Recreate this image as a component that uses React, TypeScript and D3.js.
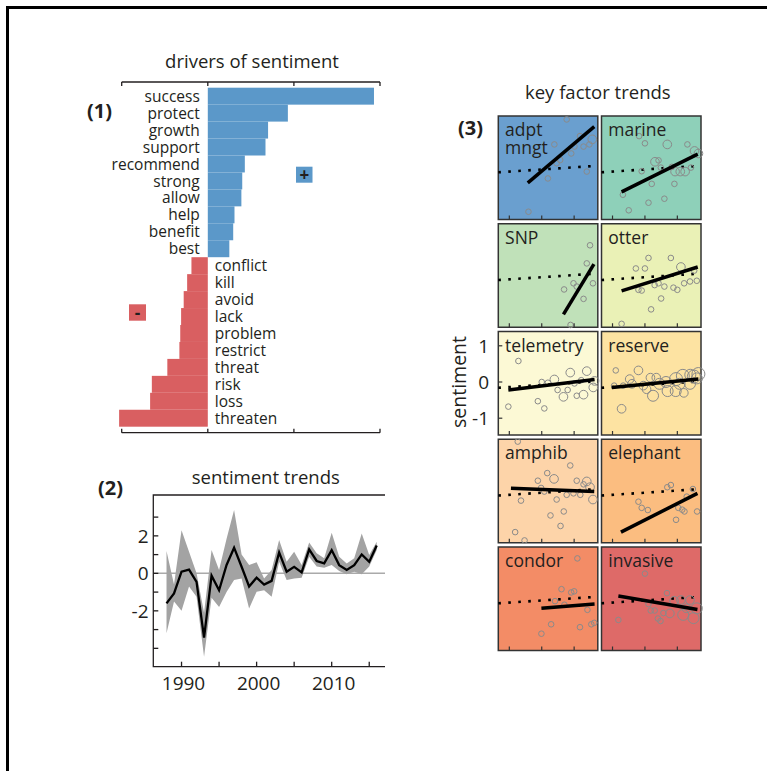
import React from 'react';
import * as d3 from 'd3';

// ---------- Panel 1: drivers of sentiment ----------
const posWords = ['success', 'protect', 'growth', 'support', 'recommend', 'strong', 'allow', 'help', 'benefit', 'best'];
const posValues = [1.93, 0.93, 0.7, 0.67, 0.43, 0.4, 0.39, 0.31, 0.295, 0.25];
const negWords = ['conflict', 'kill', 'avoid', 'lack', 'problem', 'restrict', 'threat', 'risk', 'loss', 'threaten'];
const negValues = [-0.19, -0.24, -0.28, -0.31, -0.32, -0.33, -0.47, -0.65, -0.67, -1.03];
const barTicks = [-1, 0, 1, 2];

// ---------- Panel 2: sentiment trends ----------
const years = [1988, 1989, 1990, 1991, 1992, 1993, 1994, 1995, 1996, 1997, 1998, 1999, 2000, 2001, 2002, 2003, 2004, 2005, 2006, 2007, 2008, 2009, 2010, 2011, 2012, 2013, 2014, 2015, 2016];
const sentMean = [-1.6, -1.07, 0.09, 0.2, -0.45, -3.43, -0.12, -0.9, 0.45, 1.37, 0.35, -0.7, -0.23, -0.6, -0.4, 1.12, 0.09, 0.35, 0.05, 1.28, 0.66, 0.53, 1.24, 0.44, 0.18, 0.44, 1.01, 0.62, 1.48];
const sentUpper = [1.19, -0.6, 2.3, 1.15, 0.0, -2.1, 1.25, 0.18, 1.85, 3.38, 1.0, 0.45, 0.59, -0.27, 0.18, 1.78, 0.62, 1.15, 0.45, 1.65, 1.07, 0.8, 2.17, 0.89, 0.53, 0.8, 2.13, 0.98, 1.69];
const sentLower = [-3.2, -1.5, -2.0, -0.7, -1.25, -4.45, -1.3, -1.8, -1.0, -0.35, -0.27, -1.87, -0.98, -0.9, -1.25, 0.62, -0.36, -0.27, -0.23, 0.89, 0.36, 0.3, 0.44, 0.12, -0.05, 0.09, -0.05, 0.36, 1.24];
const trendYTicks = [-4, -3, -2, -1, 0, 1, 2, 3];
const trendYLabels = [-2, 0, 2];
const trendXTicks = [1990, 1995, 2000, 2005, 2010, 2015];
const trendXLabels = [1990, 2000, 2010];

// ---------- Panel 3: key factor trends ----------
const factorNames = ['adpt mngt', 'marine', 'SNP', 'otter', 'telemetry', 'reserve', 'amphib', 'elephant', 'condor', 'invasive'];
const factorColors = ['#6a9fcf', '#8ed0b9', '#c0e1b9', '#eaf1b6', '#fcf9d5', '#fde3a2', '#fdd4a9', '#fbbd80', '#f38c66', '#de6a68'];
const factorFits = [
  [[1995.7, -0.45], [2016.2, 1.1]],
  [[1992.8, -0.7], [2016.3, 0.34]],
  [[2006.7, -1.11], [2016.1, 0.28]],
  [[1992.8, -0.46], [2016.3, 0.2]],
  [[1989.7, -0.22], [2016.3, 0.07]],
  [[1989.8, -0.15], [2016.5, 0.08]],
  [[1990.5, 0.04], [2016.2, -0.05]],
  [[1992.6, -1.17], [2016.2, -0.1]],
  [[1999.9, -0.3], [2016.3, -0.18]],
  [[1991.8, 0.04], [2016.2, -0.33]],
];
const adptPoints = [[2007.7, 1.3, 1], [2003.9, 0.61, 1], [2011.8, 0.84, 1], [2012.9, 0.55, 1], [2014.7, 0.61, 1], [2015.6, 0.75, 2], [2010.1, 0.55, 1], [2009.1, 0.36, 1], [2005.7, 0.18, 1], [2004.6, 0.09, 1], [2001.9, -0.33, 1], [2013.9, -0.14, 1], [1995.9, -1.25, 1]];
const marinePoints = [[1998.2, 0.84, 1], [2000.0, 0.64, 1], [2006.9, 0.61, 2], [2013.1, 0.61, 1], [2015.3, 0.43, 2], [2016.5, 0.36, 2], [2003.1, 0.13, 2], [2004.2, 0.17, 1], [1999.0, -0.13, 1], [2004.9, -0.03, 1], [2008.3, -0.01, 1], [2009.3, -0.14, 2], [2010.9, -0.14, 2], [2012.4, -0.14, 2], [2014.2, -0.03, 1], [2002.1, -0.48, 1], [2009.1, -0.48, 1], [1993.2, -0.78, 1], [2001.1, -1.0, 1], [2006.0, -0.89, 1], [1995.0, -1.21, 1]];
const snpPoints = [[2014.9, 0.8, 1], [2013.9, 0.3, 1], [2015.8, -0.25, 1], [2009.8, -0.25, 1], [2010.8, -0.34, 1], [2006.9, -0.42, 1], [2012.9, -0.68, 1], [2008.9, -1.4, 1]];
const otterPoints = [[2001.1, 0.45, 1], [2008.0, 0.45, 1], [1997.2, 0.16, 1], [2000.0, 0.16, 1], [2011.1, 0.2, 2], [2015.2, 0.1, 1], [2013.9, -0.2, 1], [2016.0, -0.18, 1], [2012.1, -0.25, 1], [2004.2, -0.25, 1], [2003.0, -0.3, 1], [2006.0, -0.34, 1], [2008.8, -0.37, 1], [2010.0, -0.43, 1], [1999.0, -0.45, 1], [1998.0, -0.43, 1], [2005.0, -0.67, 1], [2001.9, -0.97, 1], [1992.8, -1.37, 1]];
const telemetryPoints = [[1992.8, 0.58, 1], [1989.7, -0.68, 1], [2000.0, 0.0, 1], [2001.9, -0.02, 1], [2003.9, 0.07, 2], [2008.8, 0.26, 2], [2013.9, 0.3, 2], [2012.2, 0.05, 1], [2010.1, -0.04, 1], [2004.9, -0.22, 1], [2006.7, -0.41, 2], [2008.0, -0.22, 1], [2010.8, -0.38, 1], [2012.9, -0.35, 2], [2015.9, -0.15, 2], [1998.8, -0.53, 1], [2000.8, -0.73, 1], [2016.3, 0.03, 2]];
const reservePoints = [[1991.0, 0.32, 1], [1998.0, 0.32, 2], [1992.8, -0.74, 2], [1995.3, 0.08, 2], [1993.3, -0.1, 1], [1999.5, -0.1, 2], [2002.5, -0.38, 3], [2000.5, -0.2, 2], [2006.5, 0.0, 3], [2009.6, 0.08, 4], [2011.7, 0.17, 4], [2013.9, -0.05, 3], [2016.0, 0.1, 3], [2016.5, 0.22, 4], [2015.1, 0.15, 4], [2012.0, -0.3, 2], [2009.5, -0.25, 3], [2007.0, -0.25, 3], [1990.5, -0.1, 1], [2004.5, -0.05, 3], [2003.5, 0.12, 2], [1996.0, -0.05, 2], [2001.7, 0.12, 2], [2014.0, 0.2, 3], [2010.7, -0.05, 3]];
const amphibPoints = [[1992.6, 1.33, 1], [2008.8, 0.67, 1], [2001.7, 0.46, 1], [2003.8, 0.3, 2], [1998.8, 0.25, 1], [2010.8, 0.25, 1], [2013.9, 0.23, 2], [2012.9, 0.15, 1], [2014.9, 0.07, 2], [1999.8, 0.05, 1], [2000.8, -0.05, 1], [2007.7, -0.14, 1], [2009.8, -0.1, 1], [2011.9, -0.14, 1], [2015.8, -0.27, 2], [2004.6, -0.27, 1], [1993.6, -0.3, 1], [2006.8, -0.6, 1], [2002.7, -0.71, 1], [2005.8, -1.0, 1], [1991.8, -1.17, 1], [1994.7, -1.4, 1]];
const elephantPoints = [[2006.9, 0.07, 1], [2008.0, 0.13, 1], [2014.8, 0.02, 1], [2012.9, -0.19, 1], [1998.0, -0.33, 1], [1999.0, -0.5, 1], [2000.9, -0.56, 1], [2010.3, -0.5, 1], [2012.2, -0.6, 1], [2016.1, -0.6, 1], [2009.6, -0.83, 1], [2011.5, -0.55, 1]];
const condorPoints = [[2011.0, 1.08, 1], [2006.1, 0.23, 1], [2009.1, 0.14, 1], [2010.0, 0.17, 1], [2004.1, -0.1, 1], [2007.0, -0.2, 1], [2014.1, -0.34, 1], [2002.9, -0.74, 1], [2011.8, -0.82, 1], [1999.9, -1.0, 1], [2015.3, -0.74, 1], [2016.2, -0.7, 1]];
const invasivePoints = [[2000.0, 0.66, 1], [2006.8, 0.12, 1], [2009.0, -0.09, 2], [2011.1, -0.07, 2], [2013.9, -0.07, 2], [2016.0, -0.3, 3], [2012.8, -0.3, 2], [2011.8, -0.48, 3], [2015.0, -0.57, 3], [2001.1, -0.18, 1], [2001.8, -0.36, 1], [2003.0, -0.36, 1], [2005.7, -0.43, 1], [2007.7, -0.44, 2], [2004.0, -0.58, 1], [2004.8, -0.65, 1], [1991.8, -0.62, 1]];
const factorPoints = [adptPoints, marinePoints, snpPoints, otterPoints, telemetryPoints, reservePoints, amphibPoints, elephantPoints, condorPoints, invasivePoints];
const overallTrend = [[1986.6, -0.16], [2017.3, 0.02]];
const panelXTicks = [1990, 2000, 2010];
const panelYTicks = [-1, 0, 1];

const FONT = "'Open Sans', sans-serif";
const INK = '#231f20';
const BLUE = '#5b98c9';
const RED = '#d95f61';

export default function App() {
  // Panel 1 scales
  const xBar = d3.scaleLinear().domain([-1, 2]).range([121.7, 380]);
  const allWords = [...posWords, ...negWords];
  const allValues = [...posValues, ...negValues];
  const yBar = d3.scaleBand().domain(allWords).range([87.7, 426.7]);
  const bw = yBar.bandwidth();

  // Panel 2 scales
  const xT = d3.scaleLinear().domain([1986.24, 2017.1]).range([153.3, 385]);
  const yT = d3.scaleLinear().domain([-4.98, 4.18]).range([666.7, 495]);
  const area = d3.area<number>().x((_, i) => xT(years[i])).y0((_, i) => yT(sentLower[i])).y1((_, i) => yT(sentUpper[i]));
  const line = d3.line<number>().x((_, i) => xT(years[i])).y((d) => yT(d));

  // Panel 3 scales
  const PW = 99.5, PH = 103.5;
  const colX = [498.3, 601.5];
  const rowY = (r: number) => 116 + r * 107.75;
  const xP = d3.scaleLinear().domain([1986.6, 2017.3]).range([0, PW]);
  const yP = d3.scaleLinear().domain([1.395, -1.464]).range([0, PH]);
  const rP = d3.scaleSqrt().domain([1, 4]).range([2.8, 6.5]);
  const fitLine = d3.line<number[]>().x((d) => xP(d[0])).y((d) => yP(d[1]));

  return (
    <svg width={767} height={771} style={{ position: 'absolute', left: 0, top: 0, display: 'block' }} fontFamily={FONT}>
      <rect x={0} y={0} width={767} height={771} fill="#fff" />
      <path d="M7.5,771 V7.5 H767" fill="none" stroke="#000" strokeWidth={3} />

      {/* Panel 1 */}
      <text x={252} y={68} textAnchor="middle" fontSize={18.5} fill={INK}>drivers of sentiment</text>
      <text x={87} y={118} fontSize={20} fontWeight="bold" fill={INK}>(1)</text>
      {allWords.map((w, i) => {
        const v = allValues[i];
        return (
          <rect key={w} x={Math.min(xBar(0), xBar(v))} y={yBar(w)} width={Math.abs(xBar(v) - xBar(0))} height={bw} fill={v > 0 ? BLUE : RED} />
        );
      })}
      {allWords.map((w, i) => {
        const v = allValues[i];
        return (
          <text key={'l' + w} x={v > 0 ? xBar(0) - 8 : xBar(0) + 7} y={yBar(w)! + bw / 2} dy="0.36em" textAnchor={v > 0 ? 'end' : 'start'} fontSize={15.5} fill={INK}>{w}</text>
        );
      })}
      <line x1={xBar(-1)} x2={xBar(2)} y1={82} y2={82} stroke={INK} strokeWidth={1.3} />
      <line x1={xBar(-1)} x2={xBar(2)} y1={432.7} y2={432.7} stroke={INK} strokeWidth={1.3} />
      {barTicks.map((t) => (
        <g key={'bt' + t}>
          <line x1={xBar(t)} x2={xBar(t)} y1={82} y2={86} stroke={INK} strokeWidth={1.3} />
          <line x1={xBar(t)} x2={xBar(t)} y1={432.7} y2={428.7} stroke={INK} strokeWidth={1.3} />
        </g>
      ))}
      <rect x={296} y={166.7} width={16.5} height={16} fill={BLUE} />
      <text x={304.3} y={174.7} dy="0.36em" textAnchor="middle" fontSize={17} fontWeight="bold" fill={INK}>+</text>
      <rect x={129} y={304.3} width={17} height={16.4} fill={RED} />
      <text x={137.5} y={312.5} dy="0.36em" textAnchor="middle" fontSize={17} fontWeight="bold" fill={INK}>-</text>

      {/* Panel 2 */}
      <text x={265.8} y={484.3} textAnchor="middle" fontSize={18.5} fill={INK}>sentiment trends</text>
      <text x={98} y={495} fontSize={20} fontWeight="bold" fill={INK}>(2)</text>
      <line x1={xT.range()[0]} x2={xT.range()[1]} y1={yT(0)} y2={yT(0)} stroke="#aaaaaa" strokeWidth={1.5} />
      <path d={area(sentMean) || ''} fill="#a3a3a3" />
      <path d={line(sentMean) || ''} fill="none" stroke="#000" strokeWidth={2.3} strokeLinejoin="miter" />
      <path d={`M${xT.range()[1]},${yT.range()[1]} H${xT.range()[0]} V${yT.range()[0]} H${xT.range()[1]}`} fill="none" stroke={INK} strokeWidth={1.3} />
      {trendYTicks.map((t) => (
        <line key={'yt' + t} x1={xT.range()[0]} x2={xT.range()[0] + 5} y1={yT(t)} y2={yT(t)} stroke={INK} strokeWidth={1.3} />
      ))}
      {trendYLabels.map((t) => (
        <text key={'yl' + t} x={148.5} y={yT(t)} dy="0.36em" textAnchor="end" fontSize={19} fill={INK}>{t}</text>
      ))}
      {trendXTicks.map((t) => (
        <line key={'xt' + t} x1={xT(t)} x2={xT(t)} y1={yT.range()[0]} y2={yT.range()[0] - 5} stroke={INK} strokeWidth={1.3} />
      ))}
      {trendXLabels.map((t) => (
        <text key={'xl' + t} x={xT(t) + 2} y={690} textAnchor="middle" fontSize={19} fill={INK}>{t}</text>
      ))}

      {/* Panel 3 */}
      <text x={597.8} y={99} textAnchor="middle" fontSize={18.5} fill={INK}>key factor trends</text>
      <text x={458} y={134.5} fontSize={20} fontWeight="bold" fill={INK}>(3)</text>
      <text transform={`translate(466,382) rotate(-90)`} textAnchor="middle" fontSize={19.5} fill={INK}>sentiment</text>
      {factorNames.map((name, i) => {
        const c = i % 2, r = Math.floor(i / 2);
        const x0 = colX[c], y0 = rowY(r);
        const parts = name.split(' ');
        return (
          <g key={name} transform={`translate(${x0},${y0})`}>
            <rect x={0} y={0} width={PW} height={PH} fill={factorColors[i]} stroke="#333" strokeWidth={1.5} />
            <path d={fitLine(overallTrend) || ''} fill="none" stroke="#000" strokeWidth={2.6} strokeDasharray="2.6 7.4" />
            {factorPoints[i].map((p, j) => (
              <circle key={j} cx={xP(p[0])} cy={yP(p[1])} r={rP(p[2])} fill="none" stroke="#8a8a8a" strokeWidth={1} />
            ))}
            <path d={fitLine(factorFits[i]) || ''} fill="none" stroke="#000" strokeWidth={3.5} />
            {panelXTicks.map((t) => (
              <line key={'pt' + t} x1={xP(t)} x2={xP(t)} y1={PH} y2={PH - 4} stroke="#333" strokeWidth={1.2} />
            ))}
            {i === 4 && panelYTicks.map((t) => (
              <line key={'py' + t} x1={0} x2={4} y1={yP(t)} y2={yP(t)} stroke="#333" strokeWidth={1.2} />
            ))}
            <text x={6.8} y={20} fontSize={17.5} fill={INK}>
              {parts.map((p, k) => (
                <tspan key={k} x={6.8} dy={k === 0 ? 0 : 17.5}>{p}</tspan>
              ))}
            </text>
          </g>
        );
      })}
      {panelYTicks.map((t) => (
        <text key={'pyl' + t} x={489} y={rowY(2) + yP(t)} dy="0.36em" textAnchor="end" fontSize={19} fill={INK}>{t}</text>
      ))}
    </svg>
  );
}
